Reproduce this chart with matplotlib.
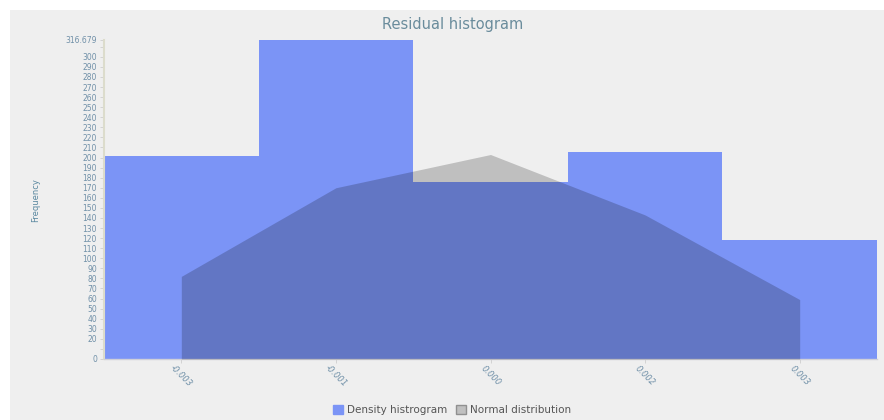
import matplotlib
matplotlib.use("Agg")
import matplotlib.pyplot as plt
from matplotlib.patches import Rectangle, Patch

categories = ["-0.003", "-0.001", "0.000", "0.002", "0.003"]
density_hist = [202, 316.679, 176, 205, 118]
normal_dist = [82, 170, 203, 143, 59]
y_max = 316.679

fig = plt.figure(figsize=(8.84, 4.2), dpi=100)
fig.patch.set_facecolor("white")
fig.patches.append(Rectangle((10 / 884, 0), 1, 1 - 10 / 420, transform=fig.transFigure,
                             facecolor="#efefef", edgecolor="none", zorder=-10))

ax = fig.add_axes([104 / 884, 1 - 359 / 420, (877 - 104) / 884, (359 - 40) / 420])
ax.set_facecolor("#efefef")

x = list(range(len(categories)))
ax.bar(x, density_hist, width=1.0, color="#7b94f6", edgecolor="none", zorder=2,
       label="Density histrogram")
ax.fill_between(x, 0, normal_dist, color="black", alpha=0.2, linewidth=0, zorder=3)

ax.set_xlim(-0.5, len(categories) - 0.5)
ax.set_ylim(0, y_max)

tick_color = "#7090a8"
yt = list(range(0, 320, 10)) + [y_max]
ylabels = []
for v in yt:
    if v in (10, 310):
        ylabels.append("")
    elif v == y_max:
        ylabels.append("316.679")
    else:
        ylabels.append(str(int(v)))
ax.set_yticks(yt)
ax.set_yticklabels(ylabels, fontsize=5.5, color=tick_color)
ax.tick_params(axis="y", length=3, width=0.5, color="#c8c8c8", pad=2)

ax.set_xticks(x)
ax.set_xticklabels(categories, fontsize=6, color=tick_color, rotation=-45,
                   ha="center", va="center", rotation_mode="anchor", style="italic")
ax.tick_params(axis="x", length=3, width=0.5, color="#c8c8c8", pad=9)

for s in ["top", "right"]:
    ax.spines[s].set_visible(False)
ax.spines["left"].set_color("#dcdccc")
ax.spines["bottom"].set_color("#d0d0d8")
ax.spines["left"].set_linewidth(1.5)
ax.spines["bottom"].set_linewidth(1.0)

fig.text(453 / 884, 1 - 25 / 420, "Residual histogram", ha="center", va="center",
         fontsize=10.5, color="#6a8c9c")
fig.text(36 / 884, 1 - 200 / 420, "Frequency", ha="center", va="center",
         rotation=90, fontsize=6, color="#5a88a0")

handles = [Patch(facecolor="#7b94f6", edgecolor="#7b94f6", label="Density histrogram"),
           Patch(facecolor="#c0c0c0", edgecolor="#909090", label="Normal distribution")]
fig.legend(handles=handles, loc="center", bbox_to_anchor=(452 / 884, 1 - 410 / 420),
           ncol=2, frameon=False, fontsize=7.5, handlelength=1.0, handleheight=1.0,
           columnspacing=0.8, handletextpad=0.4, labelcolor="#555555")

fig.savefig("out.png", dpi=100, facecolor=fig.get_facecolor())
